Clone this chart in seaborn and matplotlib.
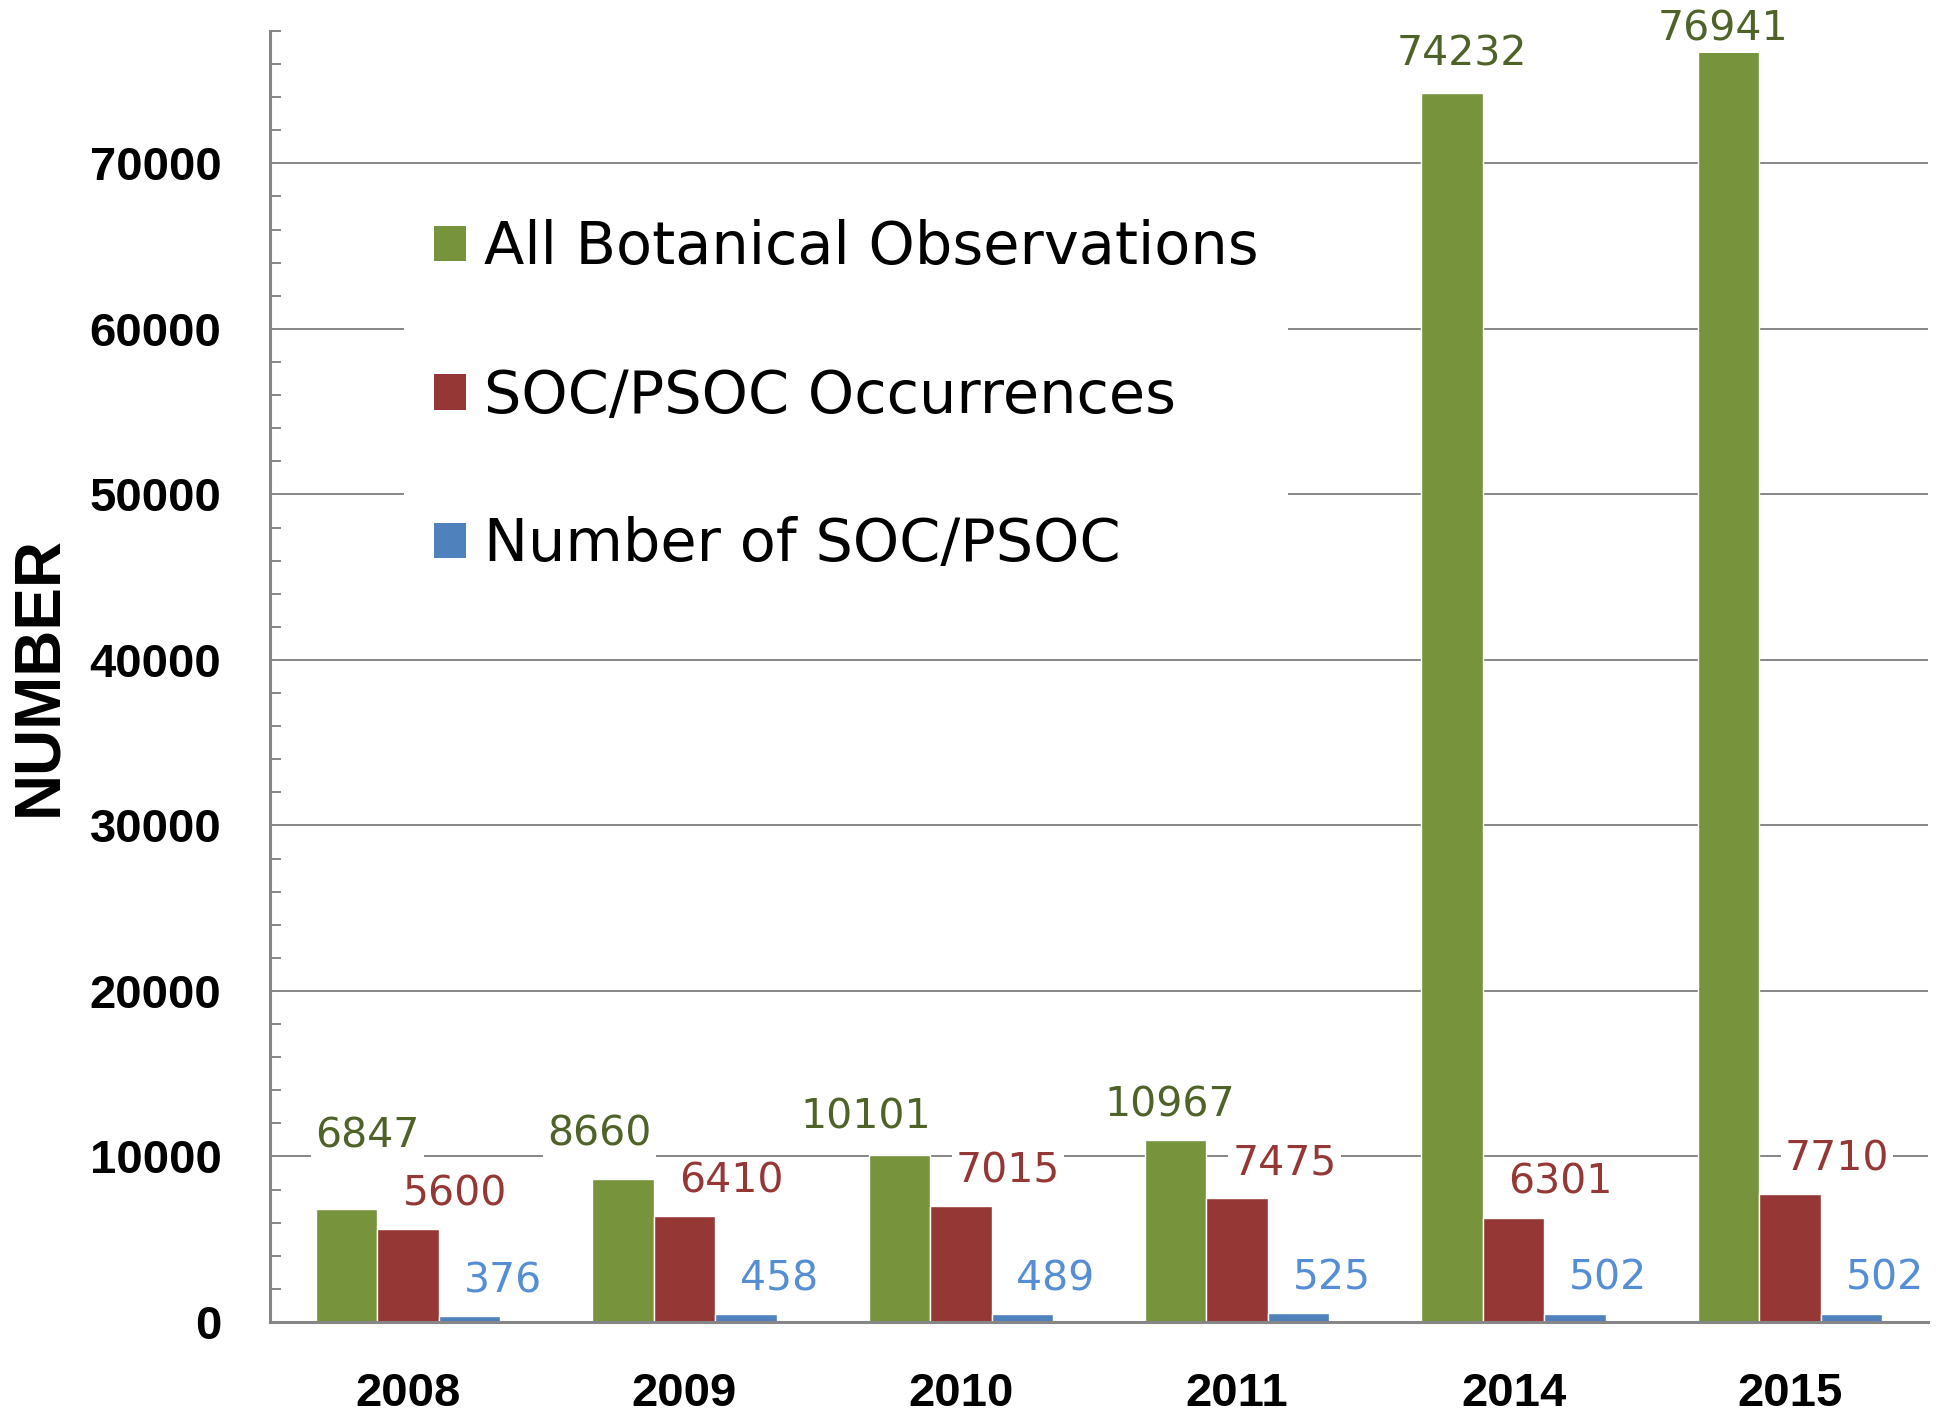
import matplotlib
matplotlib.use("Agg")
import matplotlib.pyplot as plt
from matplotlib.patches import Patch
from matplotlib.ticker import MultipleLocator
import seaborn as sns
import pandas as pd

# ---------------- data ----------------
years = ["2008", "2009", "2010", "2011", "2014", "2015"]
series = ["All Botanical Observations", "SOC/PSOC Occurrences", "Number of SOC/PSOC"]
all_obs = [6847, 8660, 10101, 10967, 74232, 76941]
soc_occ = [5600, 6410, 7015, 7475, 6301, 7710]
soc_num = [376, 458, 489, 525, 502, 502]

# ---------------- style ----------------
bar_colors = ["#77933C", "#953735", "#4F81BD"]
label_colors = ["#4F6228", "#953735", "#558ED5"]
grey = "#868686"
# label offsets (points) relative to bar top centre, per series
series_offsets = [(0, 27), (34, 25), (24, 25)]
green_nudges = [(15, 52), (-17, 32), (-24, 27), (-4, 25), (7, 28), (-4, 14)]

df = pd.DataFrame({
    "Year": years * 3,
    "Series": [s for s in series for _ in years],
    "Value": all_obs + soc_occ + soc_num,
})

sns.set_theme(style="white")
plt.rcParams["font.family"] = ["Liberation Sans", "DejaVu Sans"]

fig = plt.figure(figsize=(19.5, 14.15), dpi=100)
ax = fig.add_axes([0.13846, 0.06572, 0.85026, 0.9124])

sns.barplot(data=df, x="Year", y="Value", hue="Series", order=years,
            hue_order=series, palette=bar_colors, saturation=1,
            width=0.667, gap=0, errorbar=None, ax=ax, legend=False)

ax.set_ylim(0, 78000)
ax.yaxis.set_major_locator(MultipleLocator(10000))
ax.yaxis.set_minor_locator(MultipleLocator(2000))
ax.yaxis.grid(True, which="major", color=grey, lw=1.4)
ax.set_axisbelow(True)

for s in ["top", "right"]:
    ax.spines[s].set_visible(False)
for s in ["left", "bottom"]:
    ax.spines[s].set_color(grey)
    ax.spines[s].set_linewidth(2.2)

ax.tick_params(axis="y", which="major", direction="in", length=8, width=1.4,
               color=grey, pad=35, labelsize=34, labelcolor="black")
ax.tick_params(axis="y", which="minor", direction="in", length=8, width=1.4,
               color=grey, left=True)
ax.tick_params(axis="x", length=0, pad=36, labelsize=34, labelcolor="black")
for lab in ax.get_xticklabels() + ax.get_yticklabels():
    lab.set_fontweight("bold")

ax.set_xlabel("")
ax.set_ylabel("NUMBER", fontsize=46, fontweight="bold", color="black")
ax.yaxis.set_label_coords(-0.121, 0.5)

# data labels
for si, cont in enumerate(ax.containers):
    for bi, patch in enumerate(cont.patches):
        x = patch.get_x() + patch.get_width() / 2
        h = patch.get_height()
        dx, dy = series_offsets[si]
        if si == 0:
            dx, dy = green_nudges[bi]
        ax.annotate(f"{int(round(h))}", xy=(x, h), xytext=(dx, dy),
                    textcoords="offset points", ha="center", va="center",
                    fontsize=29.5, family="DejaVu Sans",
                    color=label_colors[si], zorder=5,
                    bbox=dict(boxstyle="square,pad=0.1", fc="white", ec="none"))

handles = [Patch(facecolor=c, edgecolor="none") for c in bar_colors]
ax.legend(handles, series, loc="center left", bbox_to_anchor=(0.0811, 0.717),
          frameon=True, facecolor="white", edgecolor="none", framealpha=1,
          prop={"family": "DejaVu Sans", "size": 42.5}, labelcolor="black",
          handlelength=0.55, handleheight=0.55, handletextpad=0.3,
          labelspacing=1.55, borderpad=0.5, borderaxespad=0)

fig.savefig("out.png", dpi=100)
